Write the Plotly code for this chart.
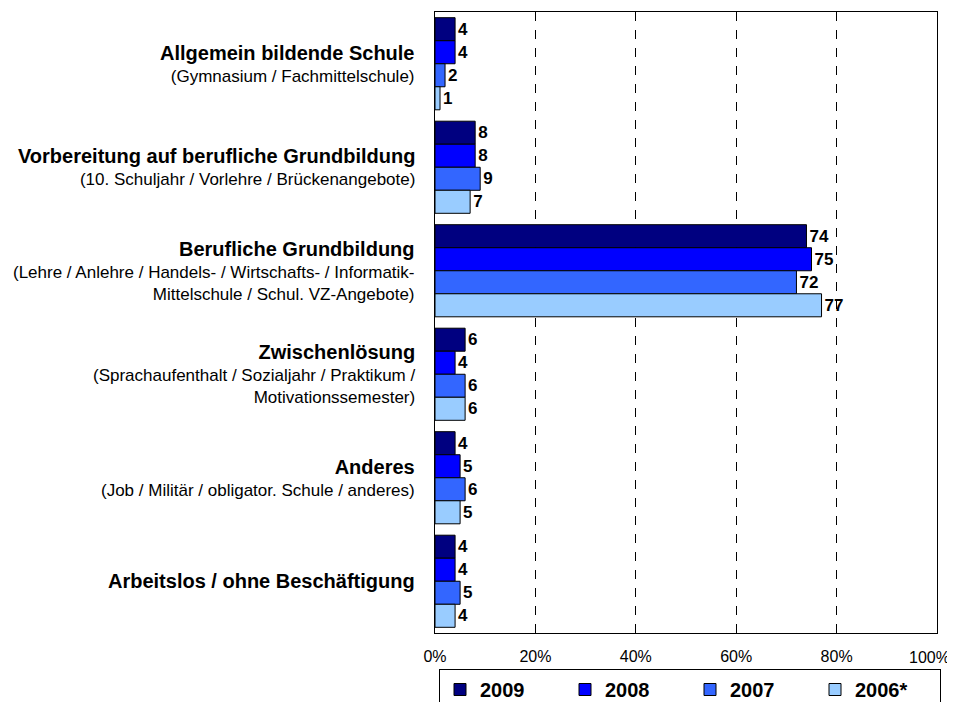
import plotly.graph_objects as go

categories = [
    "Allgemein bildende Schule",
    "Vorbereitung auf berufliche Grundbildung",
    "Berufliche Grundbildung",
    "Zwischenlösung",
    "Anderes",
    "Arbeitslos / ohne Beschäftigung",
]
subtitles = [
    "(Gymnasium / Fachmittelschule)",
    "(10. Schuljahr / Vorlehre / Brückenangebote)",
    "(Lehre / Anlehre / Handels- / Wirtschafts- / Informatik-<br>Mittelschule / Schul. VZ-Angebote)",
    "(Sprachaufenthalt / Sozialjahr / Praktikum /<br>Motivationssemester)",
    "(Job / Militär / obligator. Schule / anderes)",
    "",
]
series_names = ["2009", "2008", "2007", "2006*"]
values_2009 = [4, 8, 74, 6, 4, 4]
values_2008 = [4, 8, 75, 4, 5, 4]
values_2007 = [2, 9, 72, 6, 6, 5]
values_2006 = [1, 7, 77, 6, 5, 4]
series_values = [values_2009, values_2008, values_2007, values_2006]
colors = ["#000080", "#0000FF", "#3366FF", "#99CCFF"]
x_ticks = [0, 20, 40, 60, 80, 100]
x_tick_labels = ["0%", "20%", "40%", "60%", "80%", "100%"]

FONT = "Liberation Sans, Arial, sans-serif"
TICK_FONT = dict(family=FONT, size=16, color="black")
# the page body has an 8px default margin; figure size compensates for it
FIG_W, FIG_H = 947, 694

fig = go.Figure()
for name, vals, col in zip(series_names, series_values, colors):
    fig.add_trace(go.Bar(
        y=categories, x=vals, name=name, orientation="h",
        marker=dict(color=col, line=dict(color="#000000", width=1)),
        text=[str(v) for v in vals], textposition="outside",
        textfont=dict(family=FONT, size=17, color="black", weight="bold"),
        cliponaxis=False,
    ))

for cat, sub in zip(categories, subtitles):
    txt = f"<span style='font-size:20px'><b>{cat}</b></span>"
    if sub:
        txt += f"<br><span style='font-size:17px'>{sub}</span>"
    fig.add_annotation(
        xref="paper", yref="y", x=0, y=cat, text=txt,
        xanchor="right", yanchor="middle", align="right", xshift=-18,
        showarrow=False, font=dict(family=FONT, size=17, color="black"),
    )

# last tick label is right-aligned to stay inside the page (as in the original)
axis_tick_text = x_tick_labels[:-1] + [""]
fig.add_annotation(
    xref="x", yref="paper", x=x_ticks[-1], y=0, text=x_tick_labels[-1],
    xanchor="right", yanchor="middle", xshift=15, yshift=-24,
    showarrow=False, font=TICK_FONT,
)

fig.update_layout(
    width=FIG_W, height=FIG_H,
    margin=dict(l=427, r=18, t=4, b=69, autoexpand=False),
    paper_bgcolor="white", plot_bgcolor="white",
    barmode="group", bargap=0.11, bargroupgap=0,
    font=dict(family=FONT, color="black"),
    showlegend=True,
    legend=dict(
        orientation="h", xref="container", yref="container",
        x=431 / FIG_W, xanchor="left", y=1 - 661 / FIG_H, yanchor="top",
        bordercolor="black", borderwidth=1, bgcolor="white",
        font=dict(family=FONT, size=20, color="black", weight="bold"),
        entrywidth=80, entrywidthmode="pixels", traceorder="normal",
    ),
)
fig.update_xaxes(
    range=[0, 100], tickmode="array", tickvals=x_ticks, ticktext=axis_tick_text,
    showgrid=True, gridcolor="black", griddash="dash", gridwidth=1,
    showline=True, linecolor="black", linewidth=1, mirror=True,
    ticks="inside", ticklen=6, tickcolor="black",
    tickfont=TICK_FONT,
    ticklabelstandoff=9, ticklabeloverflow="allow",
    zeroline=False, automargin=False,
)
fig.update_yaxes(
    autorange="reversed", showticklabels=False,
    showline=True, linecolor="black", linewidth=1, mirror=True,
    ticks="", showgrid=False, automargin=False,
)

fig.write_html("out.html")
